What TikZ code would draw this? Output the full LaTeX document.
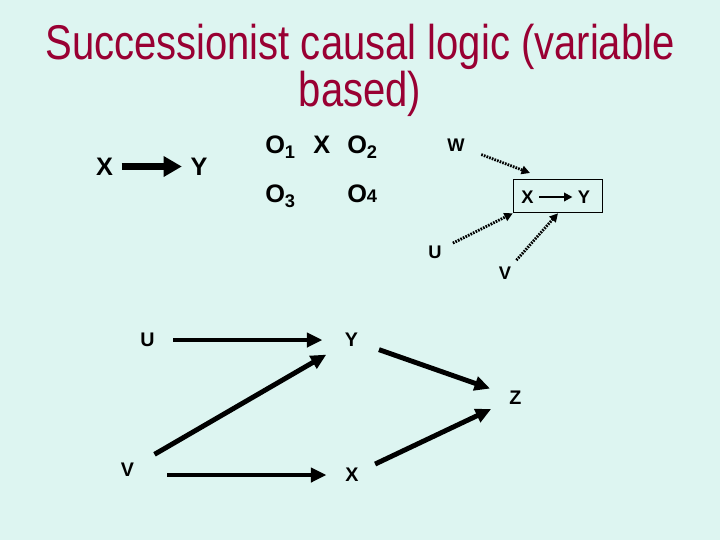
\documentclass[tikz,border=0pt]{standalone}
\usepackage{fontspec}
\setmainfont{Liberation Sans}
\newfontfamily\titlefont[FakeStretch=0.82]{Liberation Sans}
\usetikzlibrary{arrows.meta}
\definecolor{slidebg}{RGB}{221,245,241}
\definecolor{titlered}{RGB}{153,0,51}
\newcommand{\osub}[1]{\lower4pt\hbox{\fontsize{13}{13}\selectfont #1}}
\tikzset{
  slidetitle/.style={font={\titlefont\fontsize{34.7}{27.6}\selectfont}, text=titlered, align=center},
  bigvar/.style={font=\fontsize{18}{18}\selectfont\bfseries, circle, inner sep=0pt, minimum size=24pt},
  obs/.style={font=\fontsize{18}{18}\selectfont\bfseries, anchor=base west, inner sep=0pt},
  smallvar/.style={font=\fontsize{13}{13}\selectfont\bfseries, circle, inner sep=0pt, minimum size=28pt},
  var/.style={font=\fontsize{14}{14}\selectfont\bfseries, circle, inner sep=0pt, minimum size=38pt},
  cause/.style={line width=3.5pt, -{Triangle[length=11pt,width=10pt]}},
  weakcause/.style={line width=2pt, dash pattern=on 1.2pt off 0.8pt, -{Triangle[length=6pt,width=6pt]}}
}
\begin{document}
\begin{tikzpicture}[x=0.025cm, y=-0.025cm]
  % slide background
  \fill[slidebg] (0,0) rectangle (720,540);
  \useasboundingbox (0,0) rectangle (720,540);
  % title
  \node[slidetitle] (title) at (360,70) {Successionist causal logic (variable\\based)};
  % simple X -> Y
  \node[bigvar] (lx) at (104.5,166.5) {X};
  \node[bigvar] (ly) at (199,166.5) {Y};
  \draw[line width=4.5pt, -{Triangle[length=13pt,width=14pt]}] (lx) -- (ly);
  % observations
  \node[obs] (o1) at (265,153) {O\osub{1}};
  \node[obs] (ox) at (313,153) {X};
  \node[obs] (o2) at (347,153) {O\osub{2}};
  \node[obs] (o3) at (265,202) {O\osub{3}};
  \node[obs] (o4) at (347,202) {O{\fontsize{13}{13}\selectfont 4}};
  % boxed X -> Y with outside influences
  \node[draw, line width=0.6pt, minimum width=63.8pt, minimum height=24pt, inner sep=0pt] (box) at (558,196) {};
  \node[smallvar, minimum size=16pt] (bx) at (527.5,197) {X};
  \node[smallvar, minimum size=16pt] (by) at (584,197) {Y};
  \draw[line width=1.6pt, -{Triangle[length=6pt,width=6pt]}] (bx) -- (by);
  \node[smallvar, minimum size=38pt] (w) at (456,145) {W};
  \node[smallvar] (tu) at (435,252) {U};
  \node[smallvar, minimum size=24pt] (tv) at (505,273) {V};
  \coordinate (wend) at (530,173);
  \draw[weakcause] (w) -- (wend);
  \draw[weakcause] (tu) -- (box.south west);
  \draw[weakcause] (tv) -- (box.south);
  % variables in the lower graph
  \node[var, minimum size=36pt] (u) at (147.5,340) {U};
  \node[var, minimum size=41pt] (y) at (351.5,340) {Y};
  \node[var] (z) at (515.5,397.5) {Z};
  \node[var, minimum size=44pt] (v) at (127.5,470) {V};
  \node[var, minimum size=36pt] (x) at (352,475) {X};
  % causal arrows
  \draw[cause] (u) -- (y);
  \draw[cause] (v) -- (y);
  \draw[cause] (y) -- (z);
  \draw[cause, shorten <=6pt] (v.east |- x.west) -- (x.west);
  \draw[cause] (x) -- (z);
\end{tikzpicture}
\end{document}
